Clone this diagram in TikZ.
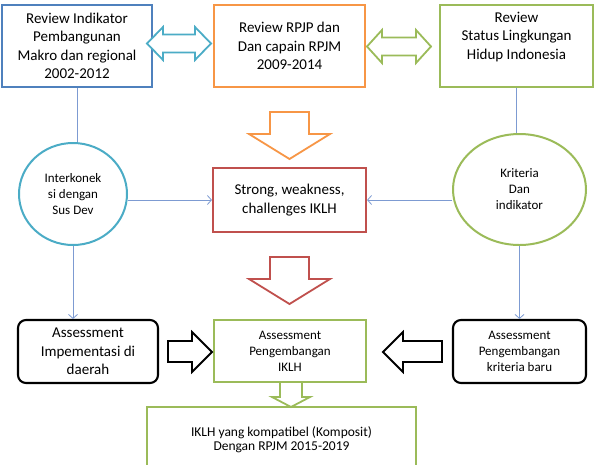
\documentclass[tikz,border=0pt]{standalone}
\usepackage{fontspec}
\setmainfont{Carlito}
\usetikzlibrary{arrows.meta,shapes.geometric,calc}
\definecolor{biru}{HTML}{4F81BD}
\definecolor{oranye}{HTML}{F79646}
\definecolor{hijau}{HTML}{9BBB59}
\definecolor{merah}{HTML}{C0504D}
\definecolor{tosca}{HTML}{4BACC6}
\definecolor{garis}{RGB}{125,155,210}
\tikzset{
         kotak/.style={draw,line width=2.1pt,align=center,inner sep=0pt,
                       font=\fontsize{15}{18.5}\selectfont},
         kotakkecil/.style={kotak,font=\fontsize{13}{16}\selectfont},
         bulat/.style={ellipse,draw,line width=2pt,align=center,inner sep=0pt,
                       font=\fontsize{13}{16}\selectfont},
         garistipis/.style={draw=garis,line width=0.8pt},
         panahtipis/.style={garistipis,-{Straight Barb[length=4pt,width=9pt]}},
         panahblok/.style={line width=1.8pt,fill=white,line join=miter}
        }

\begin{document}
\begin{tikzpicture}[x=1pt,y=-1pt]
\useasboundingbox[fill=white](0,0)rectangle(594,464);
%baris atas
\node[kotak,draw=biru,minimum width=150,minimum height=82](b1)at(77,46)
 {Review Indikator\\Pembangunan\\Makro dan regional\\2002-2012};
\node[kotak,draw=oranye,minimum width=151,minimum height=82](b2)at(289.5,46)
 {Review RPJP dan\\Dan capain RPJM\\2009-2014};
\node[kotak,draw=hijau,minimum width=153,minimum height=82](b3)at(516.5,46){};
\node[align=center,font=\fontsize{15}{18.5}\selectfont](t3)at(516.5,37)
 {Review\\Status Lingkungan\\Hidup Indonesia};
%panah dua arah
\draw[panahblok,draw=tosca](147,43.5)--(163,27)--(163,34.5)--(195,34.5)--(195,27)--(211,43.5)
 --(195,60)--(195,52.5)--(163,52.5)--(163,60)--cycle;
\draw[panahblok,draw=hijau](367,46.5)--(382,30)--(382,37.5)--(416,37.5)--(416,30)--(431,46.5)
 --(416,63)--(416,55.5)--(382,55.5)--(382,63)--cycle;
%baris tengah
\node[bulat,draw=tosca,minimum width=108,minimum height=102](c1)at(73,194)
 {Interkonek\\si dengan\\Sus Dev};
\node[kotak,draw=merah,minimum width=153,minimum height=64](r)at(289.5,200)
 {Strong, weakness,\\challenges IKLH};
\node[bulat,draw=hijau,minimum width=133,minimum height=111](c2)at(519.5,189.5)
 {Kriteria\\Dan\\indikator};
%panah ke bawah
\foreach \y/\c in {112/oranye,257/merah}{
\draw[panahblok,draw=\c](270,\y)--(309,\y)--(309,\y+22)--(330,\y+22)--(289.5,\y+47)
 --(249,\y+22)--(270,\y+22)--cycle;
}
%baris bawah
\node[kotak,rounded corners=8,draw=black,minimum width=140,minimum height=63](lb)at(88,351.5)
 {Assessment\\Impementasi di\\daerah};
\node[kotakkecil,draw=hijau,minimum width=152,minimum height=62](mb)at(290,351)
 {Assessment\\Pengembangan\\IKLH};
\node[kotakkecil,rounded corners=8,draw=black,minimum width=133,minimum height=63](rb)at(519.5,351.5)
 {Assessment\\Pengembangan\\kriteria baru};
\node[kotakkecil,draw=hijau,minimum width=269,minimum height=65,
 font=\fontsize{13.5}{14.5}\selectfont](bb)at(281.5,439.5)
 {IKLH yang kompatibel (Komposit)\\Dengan RPJM 2015-2019};
\draw[panahblok,draw=black](168,341)--(192,341)--(192,332)--(212,352)--(192,372)--(192,362)
 --(168,362)--cycle;
\draw[panahblok,draw=black](442,341)--(403,341)--(403,332)--(383,352)--(403,372)--(403,362)
 --(442,362)--cycle;
\draw[panahblok,draw=hijau](280,382)--(302,382)--(302,397)--(310,397)--(291,407)--(272,397)
 --(280,397)--cycle;
%garis penghubung
\draw[garistipis](b1.south)--(b1.south|-c1.north);
\draw[panahtipis](c1.south)--(c1.south|-lb.north);
\draw[panahtipis](c1.east|-r.west)--(r.west);
\draw[garistipis](b3.south)--(b3.south|-c2.north);
\draw[panahtipis](c2.south)--(c2.south|-rb.north);
\draw[panahtipis](c2.west|-r.east)--(r.east);
\end{tikzpicture}
\end{document}
